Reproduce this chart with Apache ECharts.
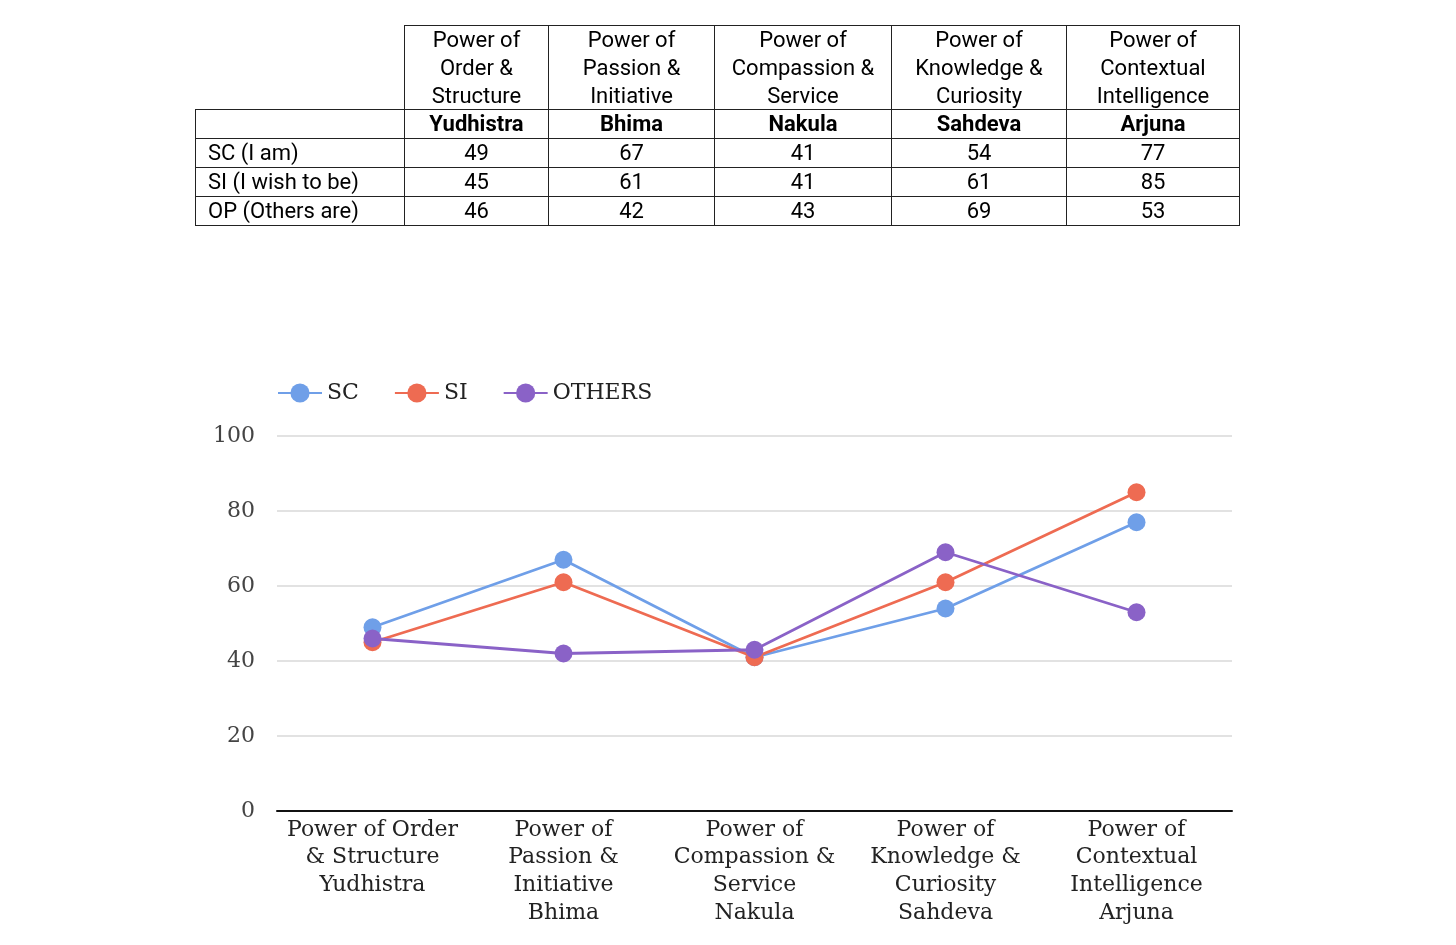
<!DOCTYPE html>
<html>
<head>
<meta charset="utf-8">
<script src="https://cdn.jsdelivr.net/npm/echarts@6/dist/echarts.min.js"></script>
<style>
  html, body { margin: 0; padding: 0; background: #fff; }
  #chart { position: absolute; left: 0; top: 0; width: 1456px; height: 945px; }
  #tbl { position: absolute; left: 195px; top: 25px; border-collapse: collapse; font-family: Roboto, sans-serif; font-size: 22px; color: #000; z-index: 2; }
  #tbl td { border: 1.5px solid #222; padding: 0; text-align: center; height: 28px; line-height: 28px; white-space: nowrap; }
  #tbl td.lbl { text-align: left; padding-left: 12px; }
  #tbl td.corner { border: none; }
  #tbl tr.head td { line-height: 27.8px; height: 80px; vertical-align: middle; }
  #tbl tr.names td { font-weight: bold; }
</style>
</head>
<body>
<table id="tbl"></table>
<div id="chart"></div>
<script>
// ---- data ----
const tableHeaders = ["Power of<br>Order &amp;<br>Structure", "Power of<br>Passion &amp;<br>Initiative", "Power of<br>Compassion &amp;<br>Service", "Power of<br>Knowledge &amp;<br>Curiosity", "Power of<br>Contextual<br>Intelligence"];
const names = ["Yudhistra", "Bhima", "Nakula", "Sahdeva", "Arjuna"];
const rowLabels = ["SC (I am)", "SI (I wish to be)", "OP (Others are)"];
const axisLabels = ["Power of Order\n& Structure\nYudhistra", "Power of\nPassion &\nInitiative\nBhima", "Power of\nCompassion &\nService\nNakula", "Power of\nKnowledge &\nCuriosity\nSahdeva", "Power of\nContextual\nIntelligence\nArjuna"];
const seriesNames = ["SC", "SI", "OTHERS"];
const scValues = [49, 67, 41, 54, 77];
const siValues = [45, 61, 41, 61, 85];
const opValues = [46, 42, 43, 69, 53];
const yTicks = [0, 20, 40, 60, 80, 100];

// ---- table ----
const colWidths = [209, 144, 166, 177, 175, 173];
const tbl = document.getElementById('tbl');
let html = '<colgroup>' + colWidths.map(w => '<col style="width:' + w + 'px">').join('') + '</colgroup>';
html += '<tr class="head"><td class="corner"></td>' + tableHeaders.map(h => '<td>' + h + '</td>').join('') + '</tr>';
html += '<tr class="names"><td></td>' + names.map(n => '<td>' + n + '</td>').join('') + '</tr>';
[scValues, siValues, opValues].forEach((vals, i) => {
  html += '<tr><td class="lbl">' + rowLabels[i] + '</td>' + vals.map(v => '<td>' + v + '</td>').join('') + '</tr>';
});
tbl.innerHTML = html;
tbl.style.width = colWidths.reduce((a, b) => a + b, 0) + 'px';
tbl.style.tableLayout = 'fixed';

// ---- chart ----
const colors = ['#6F9FE8', '#EE6B52', '#8A62C7'];
const chart = echarts.init(document.getElementById('chart'));
const serif = 'DejaVu Serif, serif';
chart.setOption({
  animation: false,
  color: colors,
  legend: {
    left: 272, top: 377,
    itemWidth: 44, itemHeight: 24, itemGap: 35,
    textStyle: { fontFamily: serif, fontSize: 22, color: '#222', padding: [0, 0, 0, 0] },
    data: seriesNames
  },
  grid: { left: 277, right: 224, top: 436, bottom: 134, containLabel: false },
  xAxis: {
    type: 'category',
    data: axisLabels,
    axisLine: { lineStyle: { color: '#111', width: 2 } },
    axisTick: { show: false },
    axisLabel: { fontFamily: serif, fontSize: 22, color: '#222', lineHeight: 27.7, margin: 5, interval: 0 }
  },
  yAxis: {
    type: 'value', min: yTicks[0], max: yTicks[yTicks.length - 1], interval: 20,
    axisLine: { show: false }, axisTick: { show: false },
    splitLine: { lineStyle: { color: '#D9D9D9', width: 1.5 } },
    axisLabel: { fontFamily: serif, fontSize: 22, color: '#444', margin: 22, padding: [11, 0, 0, 0] }
  },
  series: [scValues, siValues, opValues].map((vals, i) => ({
    name: seriesNames[i], type: 'line', data: vals,
    symbol: 'circle', symbolSize: 18,
    lineStyle: { width: 2.8 },
    itemStyle: { color: colors[i] }
  }))
});
</script>
</body>
</html>
